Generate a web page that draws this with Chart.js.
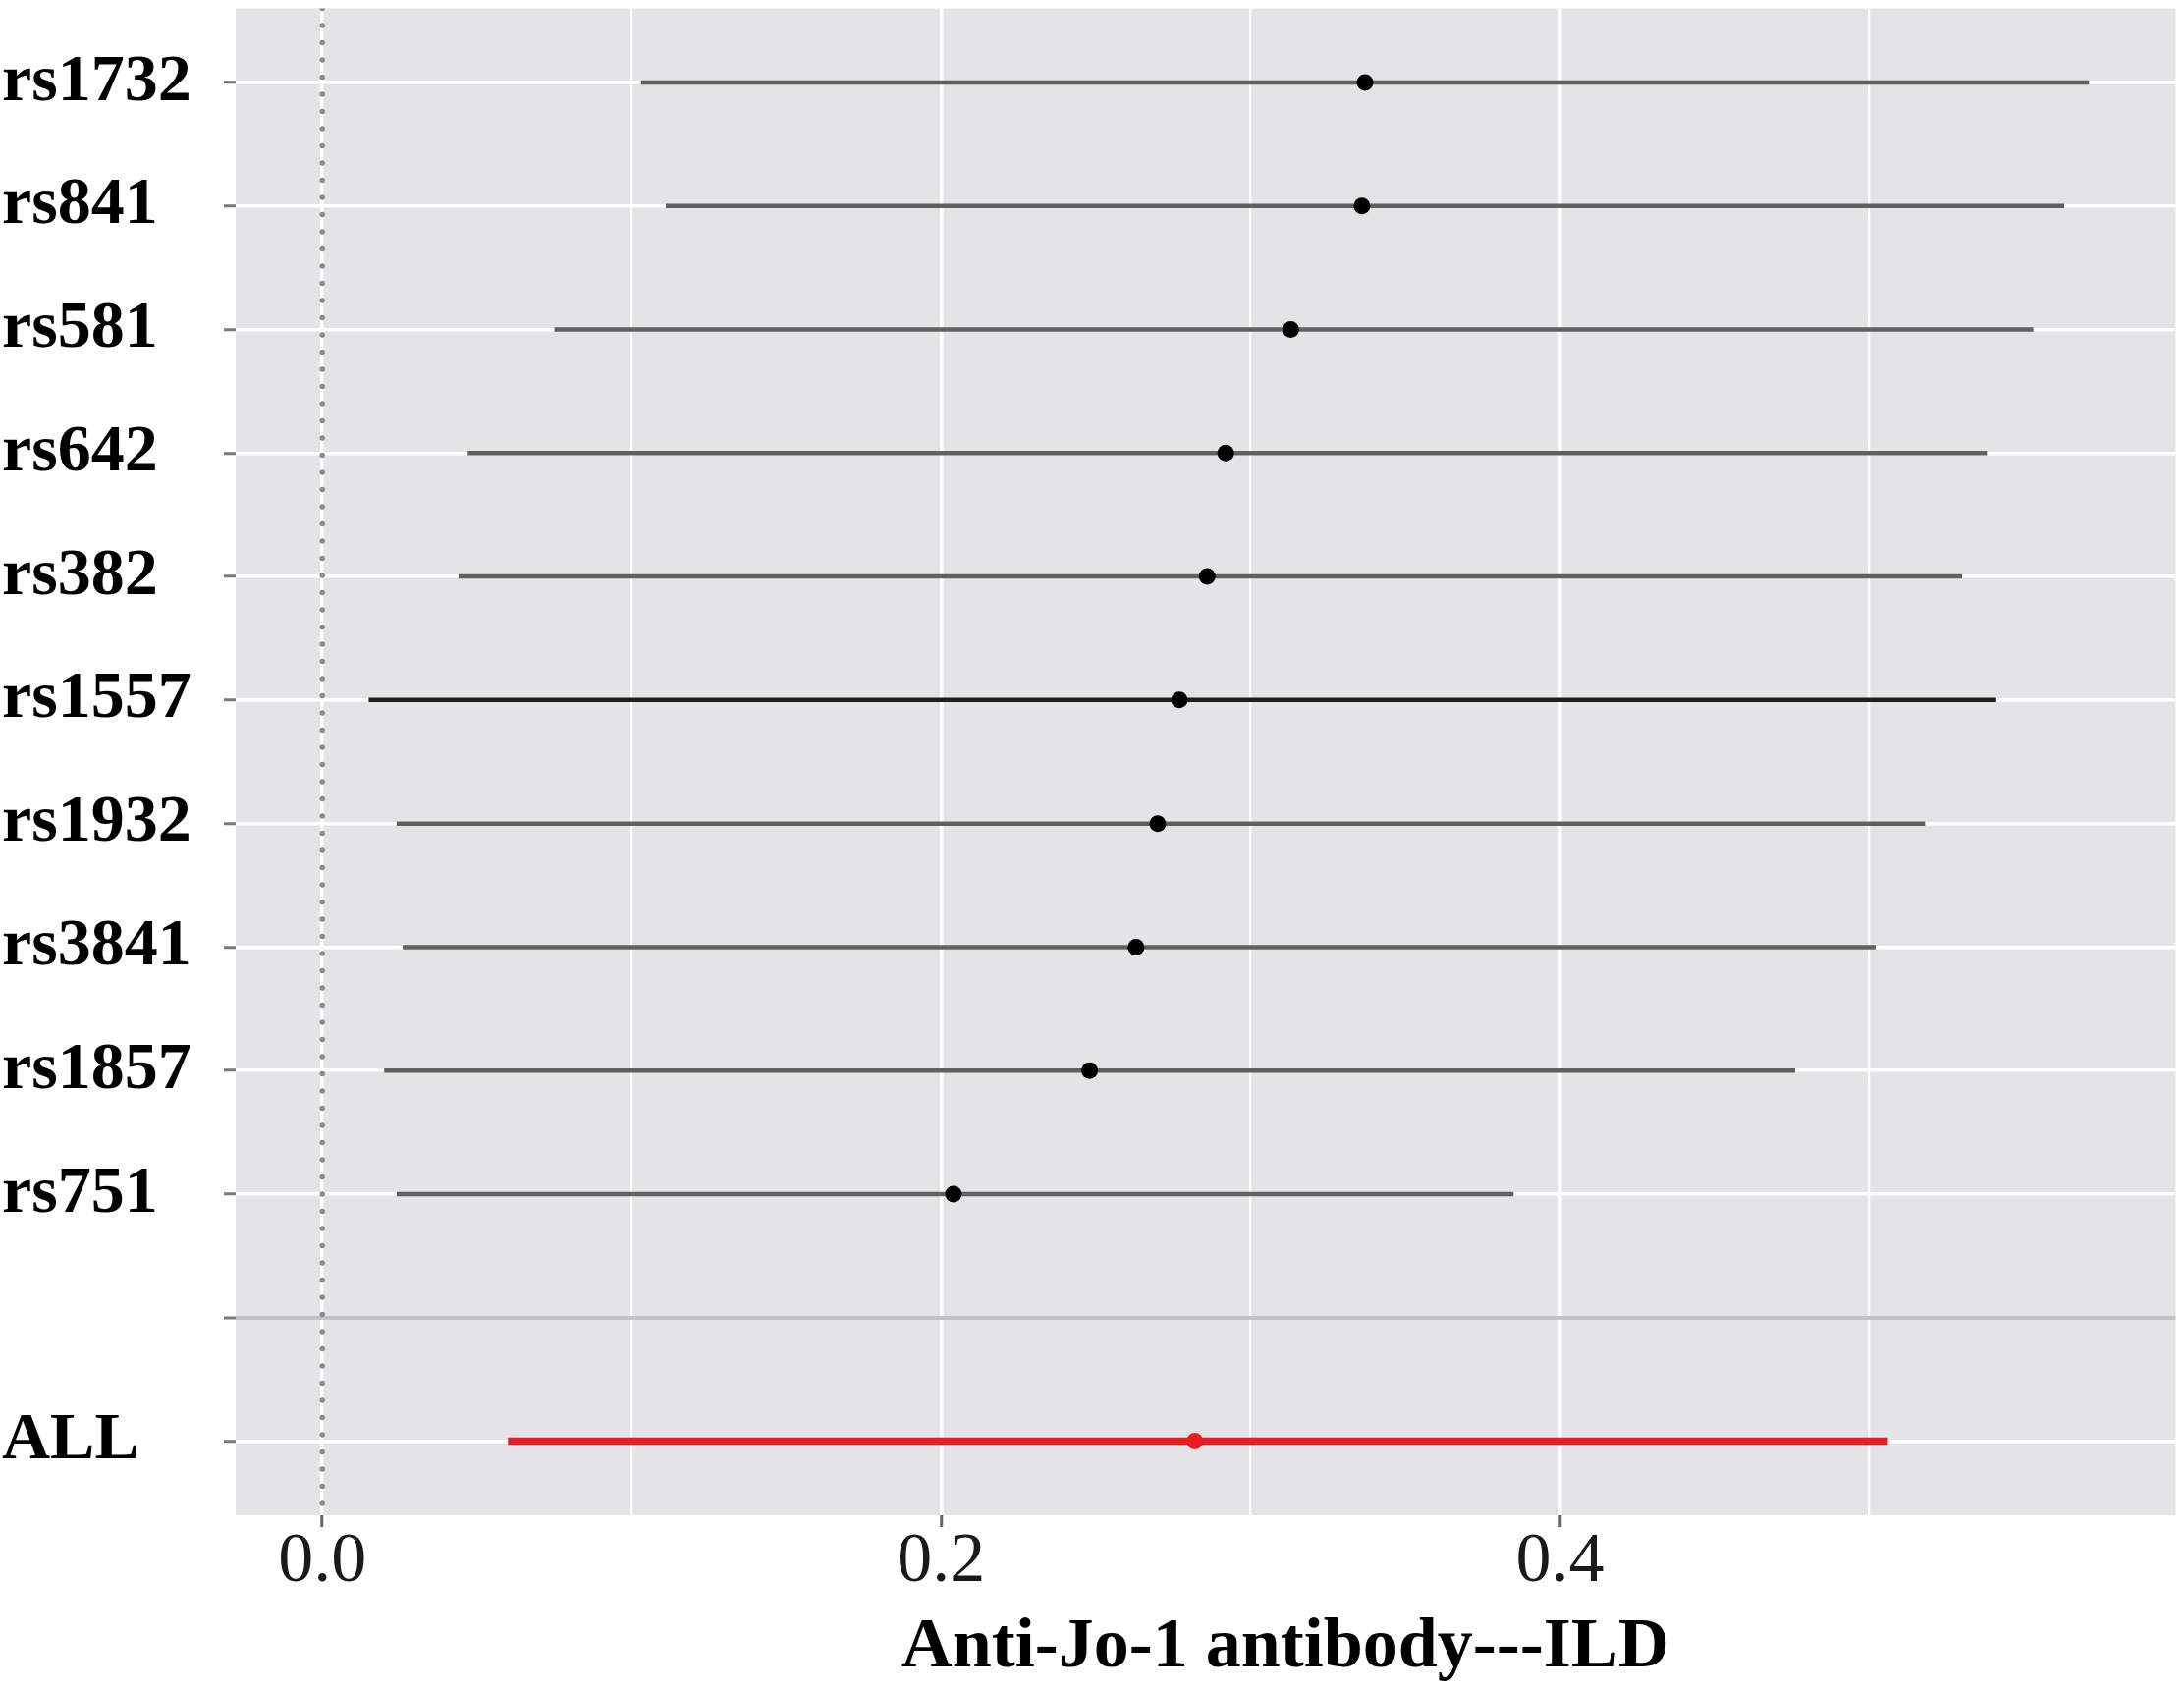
<!DOCTYPE html>
<html>
<head>
<meta charset="utf-8">
<script src="https://cdn.jsdelivr.net/npm/chart.js@4.4.0/dist/chart.umd.min.js"></script>
<style>
html,body{margin:0;padding:0;background:#fff;}
#wrap{width:2224px;height:1722px;position:relative;}
</style>
</head>
<body>
<div id="wrap"><canvas id="c"></canvas></div>
<script>
// ---- data ----
const rowLabels = ['rs1732','rs841','rs581','rs642','rs382','rs1557','rs1932','rs3841','rs1857','rs751','','ALL'];
const estimate  = [0.337, 0.336, 0.313, 0.292, 0.286, 0.277, 0.270, 0.263, 0.248, 0.204, null, 0.282];
const lower     = [0.103, 0.111, 0.075, 0.047, 0.044, 0.015, 0.024, 0.026, 0.020, 0.024, null, 0.060];
const upper     = [0.571, 0.563, 0.553, 0.538, 0.530, 0.541, 0.518, 0.502, 0.476, 0.385, null, 0.506];
const xTicks      = [0, 0.1, 0.2, 0.3, 0.4, 0.5];
const xTickLabels = ['0.0', '', '0.2', '', '0.4', ''];
const xTitle = 'Anti-Jo-1 antibody---ILD';
const refValue = 0;
const separatorRow = 10;
const highlightRow = 11;
const darkRow = 5;

// ---- styles ----
const SERIF = "'Liberation Serif', 'Times New Roman', serif";
const RED = '#ec1c24';
function rowColor(i){ return i === highlightRow ? RED : (i === darkRow ? '#1e1e1e' : '#606060'); }

const datasets = [];
// dotted reference line at x = 0
datasets.push({
  type: 'line',
  data: [{x: refValue, y: -0.6}, {x: refValue, y: rowLabels.length - 0.4}],
  borderColor: '#8a8a8a', borderWidth: 5.5, borderDash: [0, 17.5], borderCapStyle: 'round',
  pointRadius: 0, showLine: true, order: 3
});
// interval lines
rowLabels.forEach((lab, i) => {
  if (lower[i] === null) return;
  datasets.push({
    type: 'line',
    data: [{x: lower[i], y: i}, {x: upper[i], y: i}],
    borderColor: rowColor(i), borderWidth: i === highlightRow ? 7.5 : 4.5,
    pointRadius: 0, showLine: true, order: 2
  });
});
// point estimates
const pts = [], ptCol = [];
rowLabels.forEach((lab, i) => {
  if (estimate[i] === null) return;
  pts.push({x: estimate[i], y: i});
  ptCol.push(i === highlightRow ? RED : '#000');
});
datasets.push({
  type: 'scatter', data: pts,
  pointRadius: 8.5, pointBackgroundColor: ptCol, pointBorderWidth: 0, order: 1
});

const bgPlugin = {
  id: 'bg',
  beforeDraw(chart){
    const {ctx, chartArea: a} = chart;
    ctx.save();
    ctx.fillStyle = '#ffffff';
    ctx.fillRect(0, 0, chart.width, chart.height);
    ctx.fillStyle = '#e4e4e6';
    ctx.fillRect(a.left, a.top, a.right - a.left, a.bottom - a.top);
    ctx.restore();
  }
};

new Chart(document.getElementById('c'), {
  type: 'scatter',
  data: { datasets },
  plugins: [bgPlugin],
  options: {
    responsive: true, maintainAspectRatio: false, animation: false,
    layout: { padding: { left: 2, top: 7, right: 0, bottom: 0 } },
    plugins: { legend: { display: false }, tooltip: { enabled: false } },
    scales: {
      x: {
        type: 'linear', min: -0.028, max: 0.599,
        afterBuildTicks: s => { s.ticks = xTicks.map(v => ({value: v})); },
        afterFit: s => { s.height = 179; s.paddingRight = 0; },
        ticks: {
          autoSkip: false, maxRotation: 0, padding: 0,
          callback: (v, i) => xTickLabels[i],
          color: '#1a1a1a',
          font: { family: SERIF, size: 72, weight: 'normal', lineHeight: 1 }
        },
        grid: {
          color: '#ffffff',
          lineWidth: c => (xTickLabels[c.index] ? 3.5 : 2.2),
          tickColor: c => (xTickLabels[c.index] ? '#666666' : 'rgba(0,0,0,0)'),
          tickLength: 12, tickWidth: 3
        },
        border: { display: false },
        title: {
          display: true, text: '         ' + xTitle, color: '#000',
          font: { family: SERIF, size: 72, weight: 'bold', lineHeight: 1.2 },
          padding: { top: 0, bottom: 0 }
        }
      },
      y: {
        type: 'linear', reverse: true, min: -0.6, max: rowLabels.length - 0.4,
        afterBuildTicks: s => { s.ticks = rowLabels.map((_, i) => ({value: i})); },
        afterFit: s => { s.width = 238; s.paddingTop = 0; s.paddingBottom = 0; },
        ticks: {
          autoSkip: false, crossAlign: 'far', padding: 0,
          callback: (v, i) => rowLabels[i],
          color: '#000',
          font: { family: SERIF, size: 68, weight: 'bold', lineHeight: 1 }
        },
        grid: {
          color: c => (c.index === separatorRow ? '#c3c3c7' : '#ffffff'),
          lineWidth: c => (c.index === separatorRow ? 4 : 3.5),
          tickColor: '#7a7a7a', tickLength: 12, tickWidth: 3
        },
        border: { display: false }
      }
    }
  }
});
</script>
</body>
</html>
